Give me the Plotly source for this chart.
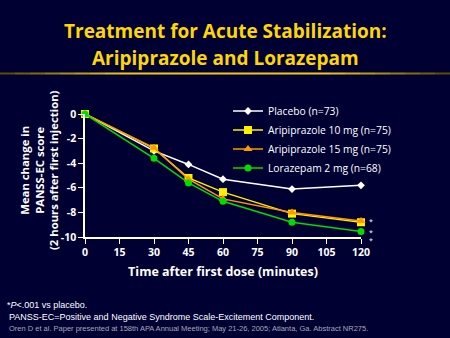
import plotly.graph_objects as go

# Minutes after first dose
minutes = [0, 30, 45, 60, 90, 120]

# Mean change in PANSS-EC score
placebo = [0, -3.0, -4.1, -5.3, -6.1, -5.8]
aripiprazole_10 = [0, -2.8, -5.2, -6.35, -8.1, -8.8]
aripiprazole_15 = [0, -2.75, -5.3, -6.9, -8.0, -8.7]
lorazepam = [0, -3.6, -5.6, -7.1, -8.8, -9.55]

series_names = [
    "Placebo (n=73)",
    "Aripiprazole 10 mg (n=75)",
    "Aripiprazole 15 mg (n=75)",
    "Lorazepam 2 mg (n=68)",
]

x_ticks = [0, 15, 30, 45, 60, 75, 90, 105, 120]
y_ticks = [0, -2, -4, -6, -8, -10]

W, H = 450, 338
ML, MR, MT, MB = 85, 89, 114, 101
PW, PH = W - ML - MR, H - MT - MB

BG = "#000033"
FONT = "Open Sans"


def px(xp):
    return (xp - ML) / PW


def py(yp):
    return (H - MB - yp) / PH


fig = go.Figure()

styles = [
    dict(color="#ffffff", symbol="diamond", size=6),
    dict(color="#ffee00", symbol="square", size=8),
    dict(color="#ff9900", symbol="triangle-up", size=8),
    dict(color="#00dd00", symbol="circle", size=7),
]
for name, vals, st in zip(series_names,
                          [placebo, aripiprazole_10, aripiprazole_15, lorazepam],
                          styles):
    fig.add_trace(go.Scatter(
        x=minutes, y=vals, name=name, mode="lines+markers",
        line=dict(color=st["color"], width=1.5),
        marker=dict(color=st["color"], symbol=st["symbol"], size=st["size"],
                    line=dict(width=0)),
        cliponaxis=False,
    ))

# significance markers beside the 120-minute points
for yv, ys in [(aripiprazole_15[-1], 0), (aripiprazole_10[-1], -10), (lorazepam[-1], -9)]:
    fig.add_annotation(x=120, y=yv, text="*", showarrow=False, xshift=10, yshift=ys,
                       font=dict(family=FONT, size=7, color="#ffffff"))

# title
for txt, yp in [("Treatment for Acute Stabilization:", 31), ("Aripiprazole and Lorazepam", 58)]:
    fig.add_annotation(x=px(225), y=py(yp), xref="paper", yref="paper", xanchor="center",
                       yanchor="middle", showarrow=False, text="<b>%s</b>" % txt,
                       font=dict(family=FONT, size=19, color="#ffd700"))

# gold rule under the title, fading toward the edges
n = 30
for i in range(n):
    t = (i + 0.5) / n
    k = 1 - abs(t - 0.5) * 2
    k = min(1.0, 0.35 + k * 1.2)
    col = "rgb(%d,%d,%d)" % (int(240 * k), int(200 * k), int(20 * k))
    fig.add_shape(type="line", xref="paper", yref="paper",
                  x0=px(W * i / n), x1=px(W * (i + 1) / n), y0=py(73.5), y1=py(73.5),
                  line=dict(color=col, width=2))

# y-axis title
fig.add_annotation(x=px(39), y=py(170), xref="paper", yref="paper", xanchor="center",
                   yanchor="middle", showarrow=False, textangle=-90,
                   text="<b>Mean change in<br>PANSS-EC score<br>(2 hours after first injection)</b>",
                   font=dict(family=FONT, size=11.3, color="#ffffff"))

# footnotes
fig.add_annotation(x=px(5), y=py(305), xref="paper", yref="paper", xanchor="left",
                   yanchor="middle", showarrow=False,
                   text="*<i>P</i>&lt;.001 vs placebo.",
                   font=dict(family="Liberation Sans", size=9, color="#ffffff"))
fig.add_annotation(x=px(7), y=py(317), xref="paper", yref="paper", xanchor="left",
                   yanchor="middle", showarrow=False,
                   text="PANSS-EC=Positive and Negative Syndrome Scale-Excitement Component.",
                   font=dict(family="Liberation Sans", size=9, color="#ffffff"))
fig.add_annotation(x=px(7), y=py(328), xref="paper", yref="paper", xanchor="left",
                   yanchor="middle", showarrow=False,
                   text="Oren D et al. Paper presented at 158th APA Annual Meeting; May 21-26, 2005; Atlanta, Ga. Abstract NR275.",
                   font=dict(family="Liberation Sans", size=7.5, color="#a8a8b8"))

fig.update_layout(
    width=W, height=H,
    margin=dict(l=ML, r=MR, t=MT, b=MB),
    paper_bgcolor=BG, plot_bgcolor=BG,
    font=dict(family=FONT, color="#ffffff"),
    showlegend=True,
    legend=dict(x=px(228), y=py(96.5), xanchor="left", yanchor="top",
                bgcolor="rgba(0,0,0,0)", font=dict(family=FONT, size=10.3, color="#ffffff"),
                itemwidth=30, tracegroupgap=0),
    xaxis=dict(range=[0, 120], tickvals=x_ticks, ticktext=["<b>%d</b>" % v for v in x_ticks],
               showgrid=False, zeroline=False, showline=True, linecolor="#ffffff",
               linewidth=1.5, ticks="outside", ticklen=5, tickcolor="#ffffff",
               tickfont=dict(family=FONT, size=10.5, color="#ffffff"),
               title=dict(text="<b>Time after first dose (minutes)</b>", standoff=9,
                          font=dict(family=FONT, size=12.5, color="#ffffff"))),
    yaxis=dict(range=[-10, 0], tickvals=y_ticks, ticktext=["<b>%d</b>" % v for v in y_ticks],
               showgrid=False, zeroline=False, showline=True, linecolor="#ffffff",
               linewidth=1.5, ticks="outside", ticklen=5, tickcolor="#ffffff",
               tickfont=dict(family=FONT, size=10.5, color="#ffffff")),
)

fig.write_html("out.html")
